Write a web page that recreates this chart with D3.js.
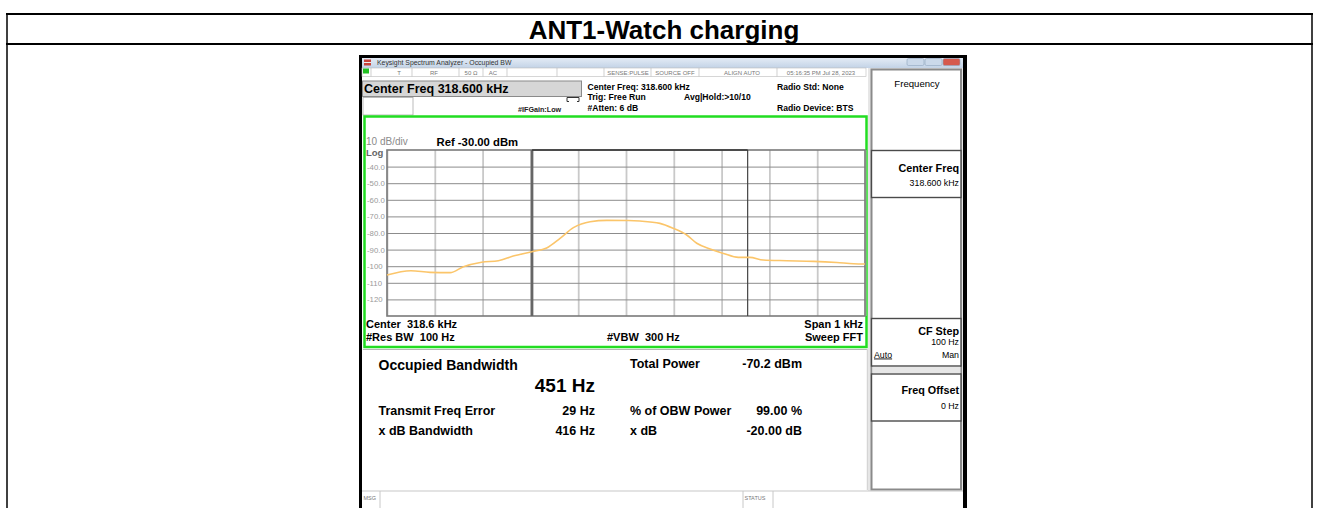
<!DOCTYPE html>
<html>
<head>
<meta charset="utf-8">
<script src="https://cdn.jsdelivr.net/npm/d3@7"></script>
<style>
  body { margin: 0; background: #fff; }
  svg { display: block; font-family: "Liberation Sans", Arial, sans-serif; }
</style>
</head>
<body>
<div id="chart"></div>
<script>
// trace (kHz, dBm)
const traceFreqKHz = [318.100, 318.150, 318.190, 318.232, 318.260, 318.298, 318.333, 318.364, 318.403, 318.434,
  318.462, 318.490, 318.525, 318.560, 318.605, 318.629, 318.671, 318.699, 318.727, 318.748,
  318.776, 318.804, 318.835, 318.859, 318.887, 318.936, 318.992, 319.041, 319.076, 319.100];
const traceLevelDbm = [-105.3, -102.7, -103.7, -103.9, -100.3, -97.6, -96.7, -93.9, -91.3, -89.0,
  -83.2, -76.8, -73.2, -72.4, -72.5, -72.8, -74.2, -77.2, -81.2, -86.2,
  -89.6, -92.3, -94.7, -94.7, -96.3, -96.7, -97.1, -97.8, -98.5, -98.7];

// occupied bandwidth edges (kHz)
const obwEdgesKHz = [318.4035, 318.8545];

// axes
const freqDomainKHz = [318.1, 319.1];
const levelDomainDbm = [-130, -30];
const xGridKHz = [318.1, 318.2, 318.3, 318.4, 318.5, 318.6, 318.7, 318.8, 318.9, 319.0, 319.1];
const yTickValues = [-40, -50, -60, -70, -80, -90, -100, -110, -120];
const yTickLabels = ["-40.0", "-50.0", "-60.0", "-70.0", "-80.0", "-90.0", "-100", "-110", "-120"];

// texts on the analyzer screen
const headerTitle = "ANT1-Watch charging";
const windowTitle = "Keysight Spectrum Analyzer - Occupied BW";
const statusTexts = ["T", "RF", "50 \u03a9", "AC", "SENSE:PULSE", "SOURCE OFF", "ALIGN AUTO", "05:16:35 PM Jul 28, 2023"];
const settingsLeft = ["Center Freq: 318.600 kHz", "Trig: Free Run", "#Atten: 6 dB"];
const settingsRight = ["Radio Std: None", "Avg|Hold:>10/10", "Radio Device: BTS"];
const footLeft = ["Center  318.6 kHz", "#Res BW  100 Hz"];
const footRight = ["Span 1 kHz", "Sweep FFT"];
const measNames = ["Transmit Freq Error", "x dB Bandwidth"];
const measValues = ["29 Hz", "416 Hz"];
const measNames2 = ["Total Power", "% of OBW Power", "x dB"];
const measValues2 = ["-70.2 dBm", "99.00 %", "-20.00 dB"];
const obwValue = "451 Hz";

(function analyzer(){
  const width = 1320, height = 508;
  const plot = {left: 387, right: 865, top: 150, bottom: 316};

  const svg = d3.select("#chart")
    .append("svg")
    .attr("width", width)
    .attr("height", height)
    .attr("viewBox", [0, 0, width, height]);

  // table around the screenshot
  const table = svg.append("g").attr("stroke", "#000");
  table.append("line").attr("x1", 6).attr("x2", 1313).attr("y1", 14).attr("y2", 14).attr("stroke-width", 2);
  table.append("line").attr("x1", 6).attr("x2", 1313).attr("y1", 44).attr("y2", 44).attr("stroke-width", 2);
  table.append("line").attr("x1", 7).attr("x2", 7).attr("y1", 13).attr("y2", height).attr("stroke-width", 1.5);
  table.append("line").attr("x1", 1312).attr("x2", 1312).attr("y1", 13).attr("y2", height).attr("stroke-width", 1.5);

  svg.append("text")
    .attr("x", 664).attr("y", 38.5)
    .attr("text-anchor", "middle")
    .attr("font-size", 26).attr("font-weight", "bold")
    .text(headerTitle);

  // screenshot frame
  svg.append("rect").attr("x", 359).attr("y", 55).attr("width", 608).attr("height", 460).attr("fill", "#000");
  svg.append("rect").attr("x", 362).attr("y", 58).attr("width", 601).attr("height", 455).attr("fill", "#fff");

  const grad = svg.append("defs").append("linearGradient")
    .attr("id", "tb").attr("x1", 0).attr("x2", 0).attr("y1", 0).attr("y2", 1);
  grad.append("stop").attr("offset", 0).attr("stop-color", "#e3ebf5");
  grad.append("stop").attr("offset", 1).attr("stop-color", "#c3d3e6");

  svg.append("rect").attr("x", 362).attr("y", 58).attr("width", 601).attr("height", 10).attr("fill", "url(#tb)");
  svg.append("rect").attr("x", 364).attr("y", 59.5).attr("width", 7).attr("height", 6).attr("fill", "#c8433a");
  svg.append("rect").attr("x", 364).attr("y", 62).attr("width", 7).attr("height", 1).attr("fill", "#eee");
  svg.append("text").attr("x", 377).attr("y", 65.3).attr("font-size", 6.9).attr("fill", "#333").text(windowTitle);

  // window buttons
  [[907, "#cbd9ea"], [925, "#cbd9ea"], [943, "#d6594d"]].forEach(([bx, c]) => {
    svg.append("rect").attr("x", bx).attr("y", 58.5).attr("width", 17).attr("height", 7)
      .attr("rx", 1.5).attr("fill", c).attr("stroke", "#8ea4bd").attr("stroke-width", 0.6);
  });

  // status row
  svg.append("rect").attr("x", 362).attr("y", 68).attr("width", 504).attr("height", 8.5)
    .attr("fill", "#fff").attr("stroke", "#bbb").attr("stroke-width", 0.6);
  svg.append("rect").attr("x", 363).attr("y", 68.5).attr("width", 6).attr("height", 5).attr("fill", "#22c022");
  [371, 412, 459, 483, 507, 557, 604, 651, 699, 777].forEach(sx => {
    svg.append("line").attr("x1", sx).attr("x2", sx).attr("y1", 68).attr("y2", 76.5)
      .attr("stroke", "#bbb").attr("stroke-width", 0.7);
  });
  const statusX = [399, 434, 471, 493, 628, 675, 742, 821];
  svg.selectAll("text.status")
    .data(statusTexts)
    .join("text")
    .classed("status", true)
    .attr("x", (d, i) => statusX[i])
    .attr("y", 74.8)
    .attr("text-anchor", "middle")
    .attr("font-size", 6)
    .attr("fill", "#777")
    .text(d => d);

  // center freq box
  svg.append("rect").attr("x", 362.5).attr("y", 81).attr("width", 219).attr("height", 15.5)
    .attr("fill", "#d6d6d6").attr("stroke", "#8a8a8a").attr("stroke-width", 1);
  svg.append("text").attr("x", 364).attr("y", 93.3).attr("font-size", 12.5).attr("font-weight", "bold")
    .text("Center Freq 318.600 kHz");
  svg.append("rect").attr("x", 363).attr("y", 97.5).attr("width", 50).attr("height", 17.5)
    .attr("fill", "#fff").attr("stroke", "#aaa").attr("stroke-width", 0.8);
  svg.append("path").attr("d", "M567,97.5 h12 v4 h-2 M567,97.5 v4 h2")
    .attr("fill", "none").attr("stroke", "#333").attr("stroke-width", 1);
  svg.append("text").attr("x", 518).attr("y", 112).attr("font-size", 7.2).attr("font-weight", "bold")
    .attr("fill", "#222").text("#IFGain:Low");

  svg.selectAll("text.setL")
    .data(settingsLeft)
    .join("text")
    .classed("setL", true)
    .attr("x", 587.5)
    .attr("y", (d, i) => 89.5 + i * 10.5)
    .attr("font-size", 8.6).attr("font-weight", "bold")
    .text(d => d);
  const setRX = [777, 684, 777];
  const setRY = [89.5, 100, 111];
  svg.selectAll("text.setR")
    .data(settingsRight)
    .join("text")
    .classed("setR", true)
    .attr("x", (d, i) => setRX[i])
    .attr("y", (d, i) => setRY[i])
    .attr("font-size", 8.6).attr("font-weight", "bold")
    .text(d => d);

  // trace window
  svg.append("rect").attr("x", 364.5).attr("y", 116.5).attr("width", 502).attr("height", 230.5)
    .attr("fill", "#fff").attr("stroke", "#22dd22").attr("stroke-width", 2.5);

  let x = d3.scaleLinear().domain(freqDomainKHz).range([plot.left, plot.right]);
  let y = d3.scaleLinear().domain(levelDomainDbm).range([plot.bottom, plot.top]);

  // vertical grid
  svg.append("g")
    .attr("transform", `translate(0,${plot.bottom})`)
    .call(d3.axisBottom(x).tickValues(xGridKHz).tickSize(-(plot.bottom - plot.top)).tickFormat(""))
    .call(g => g.select(".domain").remove())
    .call(g => g.selectAll("line").attr("stroke", "#c9c9c9").attr("stroke-width", 1.8));

  // horizontal grid + labels
  svg.append("g")
    .attr("transform", `translate(${plot.left},0)`)
    .call(d3.axisLeft(y).tickValues(yTickValues).tickSize(-(plot.right - plot.left)).tickFormat(""))
    .call(g => g.select(".domain").remove())
    .call(g => g.selectAll("line").attr("stroke", "#8c8c8c").attr("stroke-width", 1));
  svg.append("g")
    .attr("transform", `translate(${plot.left},0)`)
    .call(d3.axisLeft(y).tickValues(yTickValues).tickSize(0).tickFormat((d, i) => yTickLabels[i]))
    .call(g => g.select(".domain").remove())
    .call(g => g.selectAll("text")
      .attr("x", -20).attr("text-anchor", "start")
      .attr("font-family", "Liberation Sans, Arial, sans-serif")
      .attr("font-size", 7.8).attr("fill", "#9a9a9a"));

  svg.append("rect")
    .attr("x", plot.left).attr("y", plot.top)
    .attr("width", plot.right - plot.left).attr("height", plot.bottom - plot.top)
    .attr("fill", "none").attr("stroke", "#7a7a7a").attr("stroke-width", 1.6);

  // OBW markers
  svg.append("line").attr("x1", x(obwEdgesKHz[0])).attr("x2", x(obwEdgesKHz[0]))
    .attr("y1", plot.top).attr("y2", plot.bottom).attr("stroke", "#666").attr("stroke-width", 2.6);
  svg.append("line").attr("x1", x(obwEdgesKHz[1])).attr("x2", x(obwEdgesKHz[1]))
    .attr("y1", plot.top).attr("y2", plot.bottom).attr("stroke", "#444").attr("stroke-width", 1.2);
  svg.append("line").attr("x1", x(obwEdgesKHz[0])).attr("x2", x(obwEdgesKHz[1]))
    .attr("y1", plot.top).attr("y2", plot.top).attr("stroke", "#333").attr("stroke-width", 1.6);

  // trace
  const trace = d3.line()
    .x((d, i) => x(traceFreqKHz[i]))
    .y(d => y(d))
    .curve(d3.curveMonotoneX);
  svg.append("path")
    .datum(traceLevelDbm)
    .attr("d", trace)
    .attr("fill", "none")
    .attr("stroke", "#fbc56a")
    .attr("stroke-width", 1.6);

  svg.append("text").attr("x", 366).attr("y", 145).attr("font-size", 10).attr("fill", "#8a8a8a").text("10 dB/div");
  svg.append("text").attr("x", 436.5).attr("y", 145.5).attr("font-size", 11.3).attr("font-weight", "bold").text("Ref -30.00 dBm");
  svg.append("text").attr("x", 366).attr("y", 155.5).attr("font-size", 9.5).attr("font-weight", "bold").attr("fill", "#666").text("Log");

  svg.selectAll("text.footL")
    .data(footLeft)
    .join("text")
    .classed("footL", true)
    .attr("x", 366).attr("y", (d, i) => 328 + i * 13)
    .attr("font-size", 11).attr("font-weight", "bold")
    .style("white-space", "pre")
    .text(d => d);
  svg.selectAll("text.footR")
    .data(footRight)
    .join("text")
    .classed("footR", true)
    .attr("x", 863).attr("y", (d, i) => 328 + i * 13)
    .attr("text-anchor", "end")
    .attr("font-size", 11).attr("font-weight", "bold")
    .text(d => d);
  svg.append("text").attr("x", 607).attr("y", 341).attr("font-size", 11).attr("font-weight", "bold")
    .style("white-space", "pre").text("#VBW  300 Hz");

  // measurement panel
  svg.append("line").attr("x1", 363).attr("x2", 867).attr("y1", 349.5).attr("y2", 349.5)
    .attr("stroke", "#b5b5b5").attr("stroke-width", 1.2);
  svg.append("line").attr("x1", 867.5).attr("x2", 867.5).attr("y1", 349).attr("y2", 490)
    .attr("stroke", "#d5d5d5").attr("stroke-width", 1.5);
  svg.append("text").attr("x", 378.5).attr("y", 370).attr("font-size", 14).attr("font-weight", "bold").text("Occupied Bandwidth");
  svg.append("text").attr("x", 595).attr("y", 391.5).attr("text-anchor", "end").attr("font-size", 19).attr("font-weight", "bold").text(obwValue);

  svg.selectAll("text.mName")
    .data(measNames)
    .join("text")
    .classed("mName", true)
    .attr("x", 378.5).attr("y", (d, i) => 415 + i * 19.5)
    .attr("font-size", 12.5).attr("font-weight", "bold")
    .text(d => d);
  svg.selectAll("text.mVal")
    .data(measValues)
    .join("text")
    .classed("mVal", true)
    .attr("x", 595).attr("y", (d, i) => 415 + i * 19.5)
    .attr("text-anchor", "end")
    .attr("font-size", 12.5).attr("font-weight", "bold")
    .text(d => d);
  const m2Y = [368, 415, 434.5];
  svg.selectAll("text.mName2")
    .data(measNames2)
    .join("text")
    .classed("mName2", true)
    .attr("x", 630).attr("y", (d, i) => m2Y[i])
    .attr("font-size", 12.5).attr("font-weight", "bold")
    .text(d => d);
  svg.selectAll("text.mVal2")
    .data(measValues2)
    .join("text")
    .classed("mVal2", true)
    .attr("x", 802).attr("y", (d, i) => m2Y[i])
    .attr("text-anchor", "end")
    .attr("font-size", 12.5).attr("font-weight", "bold")
    .text(d => d);

  // softkey panel
  svg.append("rect").attr("x", 868).attr("y", 68).attr("width", 95).attr("height", 423).attr("fill", "#e6e6e6");
  svg.append("rect").attr("x", 871.5).attr("y", 69.5).attr("width", 89.5).attr("height", 420)
    .attr("fill", "#fff").attr("stroke", "#8a8a8a").attr("stroke-width", 2);
  [[150.5, 197.5], [318.5, 366], [374, 421]].forEach(([t, b]) => {
    svg.append("rect").attr("x", 871.5).attr("y", t).attr("width", 89.5).attr("height", b - t)
      .attr("fill", "#fff").attr("stroke", "#4a4a4a").attr("stroke-width", 1.4);
  });
  svg.append("rect").attr("x", 872.5).attr("y", 367).attr("width", 88).attr("height", 6).attr("fill", "#e6e6e6");
  svg.append("text").attr("x", 917).attr("y", 87).attr("text-anchor", "middle").attr("font-size", 9.6).text("Frequency");

  svg.append("text").attr("x", 959).attr("y", 171.5).attr("text-anchor", "end").attr("font-size", 10.8).attr("font-weight", "bold").text("Center Freq");
  svg.append("text").attr("x", 959).attr("y", 185.5).attr("text-anchor", "end").attr("font-size", 8.8).text("318.600 kHz");
  svg.append("text").attr("x", 959).attr("y", 334.5).attr("text-anchor", "end").attr("font-size", 10.8).attr("font-weight", "bold").text("CF Step");
  svg.append("text").attr("x", 959).attr("y", 345).attr("text-anchor", "end").attr("font-size", 8.8).text("100 Hz");
  svg.append("text").attr("x", 874).attr("y", 357.5).attr("font-size", 8.8).attr("text-decoration", "underline").text("Auto");
  svg.append("text").attr("x", 959).attr("y", 357.5).attr("text-anchor", "end").attr("font-size", 8.8).text("Man");
  svg.append("text").attr("x", 959).attr("y", 393.5).attr("text-anchor", "end").attr("font-size", 10.8).attr("font-weight", "bold").text("Freq Offset");
  svg.append("text").attr("x", 959).attr("y", 408.5).attr("text-anchor", "end").attr("font-size", 8.8).text("0 Hz");

  // message bar
  svg.append("line").attr("x1", 362).attr("x2", 963).attr("y1", 491).attr("y2", 491).attr("stroke", "#c8c8c8").attr("stroke-width", 1.2);
  [380, 743, 773].forEach(sx => {
    svg.append("line").attr("x1", sx).attr("x2", sx).attr("y1", 491).attr("y2", 508).attr("stroke", "#c8c8c8").attr("stroke-width", 1);
  });
  svg.append("text").attr("x", 363.5).attr("y", 500).attr("font-size", 5.5).attr("fill", "#777").text("MSG");
  svg.append("text").attr("x", 744.5).attr("y", 500).attr("font-size", 5.5).attr("fill", "#777").text("STATUS");

  return svg.node();
})();
</script>
</body>
</html>
